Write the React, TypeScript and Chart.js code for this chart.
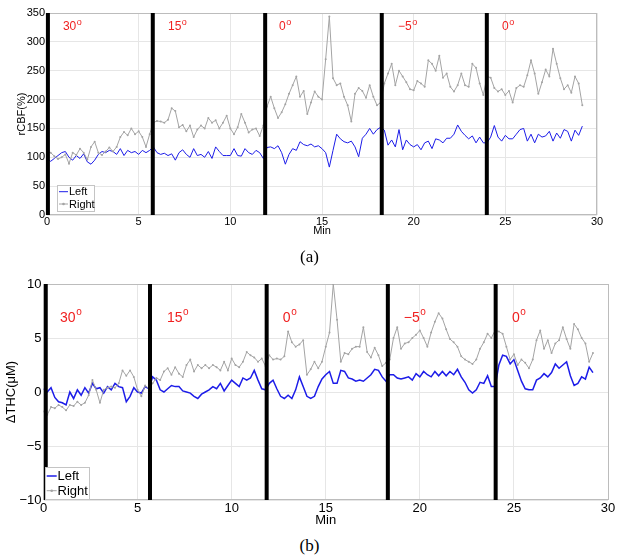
import React, { useEffect, useRef } from "react";
import { Chart, registerables } from "chart.js";

Chart.register(...registerables);

// ---------------- data ----------------
const SAMPLE_STEP_MIN = 0.2;
const seriesNames = ["Left", "Right"];
const angleTexts = ["30", "15", "0", "\u22125", "0"];

// (a) rCBF (%)
const cbfLeft = [
  97, 93, 98, 103, 108, 110, 100, 95, 103, 98, 106, 92, 88, 95, 105, 110, 108, 112, 110, 105, 115, 103, 112, 108, 110, 105, 112, 108, 112, 118,
  108, 105, 107, 103, 106, 95, 108, 113, 105, 100, 115, 103, 105, 100, 110, 98, 118, 110, 103, 103, 103, 115, 103, 102, 115, 108, 105, 112, 108, 98,
  117, 118, 115, 120, 108, 88, 105, 115, 112, 127, 122, 120, 123, 118, 120, 115, 108, 83, 112, 140, 132, 127, 125, 128, 118, 101, 133, 140, 150, 140, 148, 152,
  147, 121, 130, 118, 148, 113, 130, 122, 118, 122, 113, 125, 128, 115, 132, 130, 125, 133, 133, 140, 156, 145, 138, 132, 137, 125, 135, 125,
  125, 135, 155, 135, 128, 138, 132, 132, 140, 148, 150, 128, 140, 125, 140, 135, 137, 145, 128, 142, 133, 148, 145, 128, 147, 138, 154,
];
const cbfRight = [
  110, 108, 102, 97, 100, 105, 89, 108, 104, 115, 108, 96, 118, 127, 108, 104, 110, 117, 110, 118, 135, 144, 138, 150, 140, 145, 135, 118, 140, 160,
  163, 162, 160, 165, 185, 180, 152, 156, 145, 155, 135, 148, 155, 150, 168, 160, 164, 150, 160, 172, 150, 140, 152, 175, 160, 143, 148, 150, 137, 155,
  188, 205, 185, 168, 178, 192, 210, 225, 240, 205, 215, 175, 195, 214, 205, 200, 270, 344, 237, 225, 228, 205, 190, 162, 210, 220, 215, 203, 225, 205, 190, 195,
  228, 245, 262, 225, 250, 240, 230, 218, 216, 232, 228, 222, 268, 262, 250, 276, 238, 245, 222, 214, 225, 245, 225, 222, 262, 255, 228, 208,
  240, 238, 220, 214, 218, 208, 215, 195, 220, 225, 222, 242, 268, 245, 210, 230, 252, 240, 288, 262, 237, 218, 225, 212, 240, 228, 190,
];
const cbfMarkerMin = [0.05, 5.77, 11.9, 18.26, 23.99];
const cbfAngleMin = [0.87, 6.6, 12.66, 19.15, 24.82];
const cbfAngleLevel = 326;

// (b) ΔTHC (μM)
const thcLeft = [
  0.3, 0.0, 0.4, -0.5, -0.9, -1.0, -1.2, 0.0, -0.6, 0.2, -0.3, 0.4, -0.1, 0.8, 0.3, 0.4, -0.1, 0.5, 0.2, 0.8, 0.5, 0.4, -0.9, -0.4, 0.4, 0.0, -0.1, 0.5, 0.3,
  1.4, 1.1, 0.2, 0.0, 0.3, 0.6, 0.5, 0.5, 0.1, 0.0, -0.1, -0.4, -0.6, -0.2, 0.0, 0.2, 0.5, 0.3, 0.8, 0.1, 0.6, 1.1, 0.8, 0.5, 1.3, 1.1, 1.3, 2.0, 1.1, 0.3, 0.2,
  0.8, 1.1, 0.3, -0.4, -0.6, -0.3, -0.6, 0.2, 1.4, 0.5, -0.4, -0.6, -0.4, 0.5, 1.2, 1.6, 1.9, 0.8, 0.8, 2.0, 1.9, 1.3, 1.2, 1.0, 1.1, 1.0, 1.3, 1.6, 2.1, 2.0, 1.4, 1.0,
  1.6, 1.6, 1.3, 1.2, 1.3, 1.4, 1.1, 1.7, 1.4, 1.9, 1.6, 1.4, 1.9, 1.5, 1.9, 1.5, 1.9, 1.6, 2.1, 1.4, 0.9, 0.2, -0.1, 0.2, 0.9, 0.8, 1.5, 0.5,
  0.5, 2.5, 3.4, 3.3, 2.6, 3.0, 2.0, 1.0, 0.3, 0.2, 0.2, 1.1, 1.3, 1.7, 1.4, 1.8, 2.6, 2.2, 2.5, 2.8, 1.5, 0.6, 0.8, 1.4, 1.2, 2.3, 1.8,
];
const thcRight = [
  -1.8, -2.1, -1.4, -1.5, -1.2, -1.4, -1.7, -1.2, -1.3, -0.9, -1.2, -1.0, -0.3, 1.1, 0.2, -1.0, 0.2, 0.4, 0.5, 0.4, 0.8, 2.0, 1.5, 2.0, 1.4, 0.2, -0.4, 0.6, 0.3,
  0.8, 1.3, 1.1, 1.9, 2.2, 1.6, 2.3, 1.7, 1.4, 2.5, 3.0, 1.9, 2.5, 2.2, 2.5, 2.2, 2.5, 2.3, 2.0, 2.8, 2.0, 3.1, 2.5, 2.3, 2.8, 3.7, 3.4, 3.2, 2.8, 3.1, 2.4,
  3.4, 3.0, 3.1, 3.0, 3.3, 5.6, 4.6, 4.2, 4.4, 4.8, 1.6, 2.1, 2.8, 2.2, 2.8, 4.2, 5.5, 10.0, 6.7, 2.8, 3.6, 3.5, 4.0, 4.2, 4.2, 6.0, 3.7, 3.2, 4.1, 3.4, 2.4, 2.7,
  3.0, 5.0, 6.0, 4.0, 4.5, 4.6, 5.0, 5.3, 5.7, 5.0, 4.2, 5.5, 6.5, 7.3, 6.8, 5.8, 4.9, 4.6, 4.2, 3.3, 3.0, 2.8, 2.6, 3.0, 4.0, 4.6, 5.4, 5.0,
  5.7, 5.6, 5.4, 4.2, 3.0, 3.5, 2.5, 3.0, 2.7, 2.2, 3.0, 4.8, 5.7, 4.0, 4.8, 3.6, 4.5, 4.8, 6.0, 4.9, 4.0, 6.3, 5.8, 5.0, 4.5, 2.8, 3.6,
];
const thcMarkerMin = [0.12, 5.66, 11.86, 18.3, 24.03];
const thcAngleMin = [0.88, 6.56, 12.72, 19.15, 24.9];
const thcAngleLevel = 6.85;

// ---------------- styling ----------------
const BLUE = "#1c1ce8";
const GRAY = "#a4a4a4";
const RED = "#f02020";
const FONT = '"Liberation Sans", Arial, sans-serif';

type LegendCfg = {
  dx: number; dy: number; w: number; h: number; rowY: number[];
  lineX0: number; lineX1: number; textX: number; fs: number;
};
type PanelCfg = {
  left: number[]; right: number[]; markers: number[]; angleMin: number[]; angleLevel: number;
  yMin: number; yMax: number; yStep: number; yTitle: string;
  fs: number; angleFs: number; padTop: number; padRight: number; yAxisW: number; xAxisH: number;
  xTickPad: number; yTickPad: number; xTitlePad: number; yTitlePad: number; canvasH: number;
  blueWidth: number; legend: LegendCfg;
};

function makeDecor(c: PanelCfg) {
  return {
    id: "decor",
    beforeDatasetsDraw(chart: any) {
      const { ctx, chartArea: a } = chart;
      ctx.save();
      ctx.strokeStyle = "#bcbcbc";
      ctx.lineWidth = 1;
      ctx.strokeRect(Math.round(a.left) + 0.5, Math.round(a.top) + 0.5, Math.round(a.right - a.left) - 1, Math.round(a.bottom - a.top) - 1);
      ctx.restore();
    },
    afterDatasetsDraw(chart: any) {
      const { ctx, chartArea: a, scales } = chart;
      ctx.save();
      ctx.textAlign = "left";
      ctx.textBaseline = "middle";
      ctx.fillStyle = RED;
      const y = scales.y.getPixelForValue(c.angleLevel);
      c.angleMin.forEach((m, i) => {
        const x = scales.x.getPixelForValue(m);
        const t = angleTexts[i];
        ctx.font = `${c.angleFs}px ${FONT}`;
        ctx.fillText(t, x, y);
        const w = ctx.measureText(t).width;
        ctx.font = `${Math.round(c.angleFs * 0.72)}px ${FONT}`;
        ctx.fillText("o", x + w + 0.5, y - c.angleFs * 0.4);
      });
      // legend
      const L = c.legend;
      const bx = Math.round(a.left + L.dx);
      const by = Math.round(a.bottom - L.dy - L.h);
      ctx.fillStyle = "#fff";
      ctx.fillRect(bx, by, L.w, L.h);
      ctx.strokeStyle = "#c4c4c4";
      ctx.lineWidth = 1;
      ctx.strokeRect(bx + 0.5, by + 0.5, L.w, L.h);
      const rows = [
        { name: seriesNames[0], color: BLUE, dot: false, lw: c.blueWidth },
        { name: seriesNames[1], color: GRAY, dot: true, lw: 1 },
      ];
      rows.forEach((r, i) => {
        const ry = by + L.rowY[i];
        ctx.strokeStyle = r.color;
        ctx.lineWidth = r.lw;
        ctx.beginPath();
        ctx.moveTo(bx + L.lineX0, ry);
        ctx.lineTo(bx + L.lineX1, ry);
        ctx.stroke();
        if (r.dot) {
          ctx.fillStyle = r.color;
          ctx.beginPath();
          ctx.arc(bx + (L.lineX0 + L.lineX1) / 2, ry, 1.3, 0, Math.PI * 2);
          ctx.fill();
        }
        ctx.fillStyle = "#000";
        ctx.font = `${L.fs}px ${FONT}`;
        ctx.textBaseline = "middle";
        ctx.fillText(r.name, bx + L.textX, ry + 0.5);
      });
      ctx.restore();
    },
  };
}

function Panel({ cfg }: { cfg: PanelCfg }) {
  const ref = useRef<HTMLCanvasElement>(null);
  useEffect(() => {
    const c = cfg;
    const toPts = (arr: number[]) => arr.map((v, i) => ({ x: Math.round(i * SAMPLE_STEP_MIN * 100) / 100, y: v }));
    const markerSets = c.markers.map((m) => ({
      label: "",
      data: [{ x: m, y: c.yMin }, { x: m, y: c.yMax }],
      borderColor: "#000",
      borderWidth: 4,
      pointRadius: 0,
      clip: false as any,
      order: 0,
      borderCapStyle: "butt" as const,
    }));
    const tickFont = { family: FONT, size: c.fs };
    const chart = new Chart(ref.current as HTMLCanvasElement, {
      type: "line",
      data: {
        datasets: [
          ...markerSets,
          {
            label: seriesNames[1],
            data: toPts(c.right),
            borderColor: GRAY,
            borderWidth: 1,
            pointRadius: 1,
            pointBackgroundColor: GRAY,
            pointBorderWidth: 0,
            order: 1,
          },
          {
            label: seriesNames[0],
            data: toPts(c.left),
            borderColor: BLUE,
            borderWidth: c.blueWidth,
            pointRadius: 0,
            order: 2,
          },
        ] as any,
      },
      options: {
        responsive: false,
        animation: false,
        devicePixelRatio: 1,
        layout: { padding: { top: c.padTop, right: c.padRight, left: 0, bottom: 0 } },
        plugins: { legend: { display: false }, tooltip: { enabled: false } },
        scales: {
          x: {
            type: "linear",
            min: 0,
            max: 30,
            ticks: { stepSize: 5, font: tickFont, color: "#000", padding: c.xTickPad, maxRotation: 0 },
            grid: { color: "#e6e6e6", drawTicks: false },
            border: { display: false },
            title: { display: true, text: "Min", font: tickFont, color: "#000", padding: { top: 0, bottom: c.xTitlePad } },
            afterFit: (s: any) => { s.height = c.xAxisH; },
          },
          y: {
            type: "linear",
            min: c.yMin,
            max: c.yMax,
            ticks: {
              stepSize: c.yStep,
              font: tickFont,
              color: "#000",
              padding: c.yTickPad,
              callback: (v: any) => String(v).replace("-", "\u2212"),
            },
            grid: { color: "#e6e6e6", drawTicks: false },
            border: { display: false },
            title: { display: true, text: c.yTitle, font: tickFont, color: "#000", padding: { top: c.yTitlePad, bottom: 0 } },
            afterFit: (s: any) => { s.width = c.yAxisW; },
          },
        },
      } as any,
      plugins: [makeDecor(c)],
    });
    return () => chart.destroy();
  }, [cfg]);
  return <canvas ref={ref} width={619} height={cfg.canvasH} style={{ display: "block", width: 619, height: cfg.canvasH }} />;
}

const panelA: PanelCfg = {
  left: cbfLeft, right: cbfRight, markers: cbfMarkerMin, angleMin: cbfAngleMin, angleLevel: cbfAngleLevel,
  yMin: 0, yMax: 350, yStep: 50, yTitle: "rCBF(%)",
  fs: 11, angleFs: 12, padTop: 13, padRight: 22, yAxisW: 47, xAxisH: 30,
  xTickPad: 0.5, yTickPad: 2, xTitlePad: 7, yTitlePad: 15, canvasH: 245, blueWidth: 1,
  legend: { dx: 10, dy: 4, w: 37, h: 26, rowY: [6.7, 19], lineX0: 2, lineX1: 11, textX: 12, fs: 11 },
};

const panelB: PanelCfg = {
  left: thcLeft, right: thcRight, markers: thcMarkerMin, angleMin: thcAngleMin, angleLevel: thcAngleLevel,
  yMin: -10, yMax: 10, yStep: 5, yTitle: "\u0394THC(\u03bcM)",
  fs: 13, angleFs: 14, padTop: 22, padRight: 11, yAxisW: 43.5, xAxisH: 32,
  xTickPad: 1, yTickPad: 2, xTitlePad: 4, yTitlePad: 4, canvasH: 270, blueWidth: 1.5,
  legend: { dx: 1.5, dy: 1, w: 44, h: 32, rowY: [9, 23.7], lineX0: 1.7, lineX1: 11.7, textX: 12.5, fs: 13 },
};

const captionStyle: React.CSSProperties = {
  position: "absolute",
  left: 0,
  width: 619,
  textAlign: "center",
  fontFamily: '"Liberation Serif", "DejaVu Serif", serif',
  fontSize: 17,
  lineHeight: "17px",
  color: "#000",
};

export default function App() {
  return (
    <div style={{ position: "fixed", left: 0, top: 0, width: 619, height: 559, background: "#fff", overflow: "hidden" }}>
      <div style={{ position: "absolute", left: 0, top: 0 }}>
        <Panel cfg={panelA} />
      </div>
      <div style={{ position: "absolute", left: 0, top: 262 }}>
        <Panel cfg={panelB} />
      </div>
      <div style={{ ...captionStyle, top: 248 }}>(a)</div>
      <div style={{ ...captionStyle, top: 537 }}>(b)</div>
    </div>
  );
}
